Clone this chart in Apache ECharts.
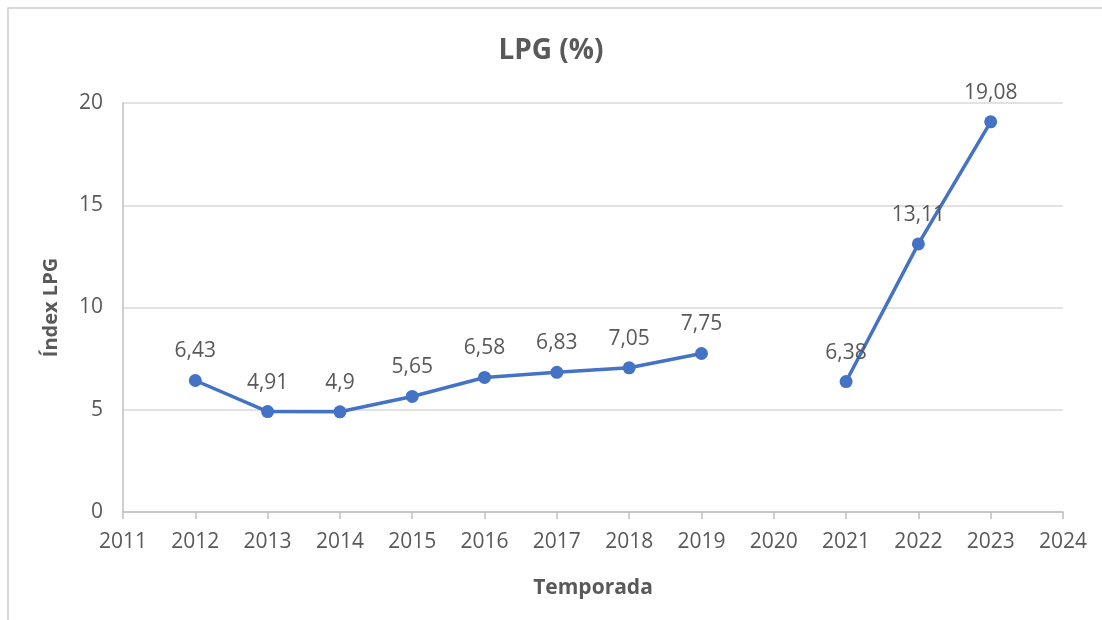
<!DOCTYPE html>
<html>
<head>
<meta charset="utf-8">
<script src="https://cdn.jsdelivr.net/npm/echarts@6/dist/echarts.min.js"></script>
<style>
html,body{margin:0;padding:0;background:#fff;}
#main{width:1102px;height:620px;}
</style>
</head>
<body>
<div id="main"></div>
<script>
// temporadas i índex LPG (2020 sense dada)
var years = [2012, 2013, 2014, 2015, 2016, 2017, 2018, 2019, 2020, 2021, 2022, 2023];
var lpg = [6.43, 4.91, 4.9, 5.65, 6.58, 6.83, 7.05, 7.75, '-', 6.38, 13.11, 19.08];

var txt = '#595959';
var myChart = echarts.init(document.getElementById('main'));
var points = [];
for (var i = 0; i < years.length; i++) {
	points.push([years[i], lpg[i]]);
}
var option = {
	backgroundColor: '#fff',
	textStyle: {fontFamily: 'Open Sans'},
	title: {
		text: 'LPG (%)',
		left: 'center',
		top: 32,
		textStyle: {fontSize: 28, fontWeight: 'bold', color: txt, fontFamily: 'Open Sans'}
	},
	graphic: [{
		type: 'rect',
		shape: {x: 8, y: 8, width: 1200, height: 700},
		style: {fill: 'none', stroke: '#d9d9d9', lineWidth: 2},
		silent: true
	}],
	grid: {left: 123, right: 39, top: 103, bottom: 108},
	xAxis: {
		type: 'value',
		min: 2011,
		max: 2024,
		interval: 1,
		name: 'Temporada',
		nameLocation: 'middle',
		nameGap: 66,
		nameTextStyle: {fontSize: 21, fontWeight: 'bold', color: txt},
		axisLine: {show: true, lineStyle: {color: '#bfbfbf', width: 1.5}},
		axisTick: {show: true, length: 7, lineStyle: {color: '#bfbfbf', width: 1.5}},
		axisLabel: {fontSize: 21, color: txt, margin: 20, formatter: function(v){ return String(v); }},
		splitLine: {show: false}
	},
	yAxis: {
		type: 'value',
		min: 0,
		max: 20,
		interval: 5,
		name: 'Índex LPG',
		nameLocation: 'middle',
		nameGap: 62,
		nameTextStyle: {fontSize: 20, fontWeight: 'bold', color: txt},
		axisLine: {show: true, lineStyle: {color: '#bfbfbf', width: 1.5}},
		axisTick: {show: false},
		axisLabel: {fontSize: 21, color: txt, margin: 20},
		splitLine: {show: true, lineStyle: {color: '#d9d9d9', width: 1.5}}
	},
	series: [{
		type: 'line',
		data: points,
		connectNulls: false,
		symbol: 'circle',
		symbolSize: 13,
		itemStyle: {color: '#4472c4'},
		lineStyle: {color: '#4472c4', width: 3.5},
		label: {
			show: true,
			position: 'top',
			distance: 12,
			fontSize: 21,
			color: txt,
			formatter: function(p){ return String(p.value[1]).replace('.', ','); }
		}
	}]
};
myChart.setOption(option, true);
</script>
</body>
</html>
